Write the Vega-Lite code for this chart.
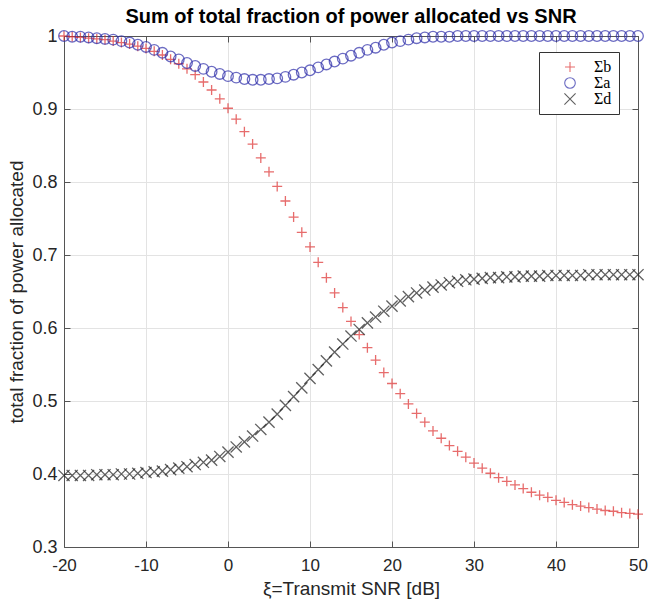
{
  "$schema": "https://vega.github.io/schema/vega-lite/v6.json",
  "width": 574,
  "height": 511,
  "autosize": {"type": "none"},
  "padding": {"left": 64, "top": 36, "right": 10, "bottom": 63},
  "background": "white",
  "title": {"text": "Sum of total fraction of power allocated vs SNR", "font": "Liberation Sans", "fontSize": 20, "fontWeight": "bold", "color": "#000000", "anchor": "middle", "offset": 0},
  "data": {"values": [
    {"x": -20, "b": 1.000, "a": 1.000, "d": 0.398},
    {"x": -19, "b": 0.999, "a": 0.999, "d": 0.398},
    {"x": -18, "b": 0.998, "a": 0.999, "d": 0.398},
    {"x": -17, "b": 0.997, "a": 0.998, "d": 0.398},
    {"x": -16, "b": 0.996, "a": 0.997, "d": 0.399},
    {"x": -15, "b": 0.995, "a": 0.996, "d": 0.399},
    {"x": -14, "b": 0.993, "a": 0.995, "d": 0.399},
    {"x": -13, "b": 0.991, "a": 0.993, "d": 0.400},
    {"x": -12, "b": 0.989, "a": 0.991, "d": 0.400},
    {"x": -11, "b": 0.986, "a": 0.988, "d": 0.401},
    {"x": -10, "b": 0.983, "a": 0.985, "d": 0.402},
    {"x": -9, "b": 0.979, "a": 0.981, "d": 0.403},
    {"x": -8, "b": 0.974, "a": 0.977, "d": 0.404},
    {"x": -7, "b": 0.968, "a": 0.972, "d": 0.406},
    {"x": -6, "b": 0.962, "a": 0.968, "d": 0.408},
    {"x": -5, "b": 0.955, "a": 0.963, "d": 0.410},
    {"x": -4, "b": 0.947, "a": 0.959, "d": 0.413},
    {"x": -3, "b": 0.937, "a": 0.955, "d": 0.416},
    {"x": -2, "b": 0.926, "a": 0.951, "d": 0.419},
    {"x": -1, "b": 0.914, "a": 0.948, "d": 0.424},
    {"x": 0, "b": 0.901, "a": 0.945, "d": 0.430},
    {"x": 1, "b": 0.886, "a": 0.943, "d": 0.437},
    {"x": 2, "b": 0.869, "a": 0.941, "d": 0.444},
    {"x": 3, "b": 0.852, "a": 0.940, "d": 0.452},
    {"x": 4, "b": 0.833, "a": 0.940, "d": 0.461},
    {"x": 5, "b": 0.814, "a": 0.941, "d": 0.471},
    {"x": 6, "b": 0.794, "a": 0.942, "d": 0.482},
    {"x": 7, "b": 0.774, "a": 0.944, "d": 0.494},
    {"x": 8, "b": 0.752, "a": 0.947, "d": 0.506},
    {"x": 9, "b": 0.731, "a": 0.950, "d": 0.518},
    {"x": 10, "b": 0.711, "a": 0.953, "d": 0.531},
    {"x": 11, "b": 0.690, "a": 0.957, "d": 0.543},
    {"x": 12, "b": 0.669, "a": 0.961, "d": 0.555},
    {"x": 13, "b": 0.648, "a": 0.965, "d": 0.567},
    {"x": 14, "b": 0.628, "a": 0.969, "d": 0.578},
    {"x": 15, "b": 0.609, "a": 0.973, "d": 0.589},
    {"x": 16, "b": 0.591, "a": 0.977, "d": 0.598},
    {"x": 17, "b": 0.573, "a": 0.981, "d": 0.607},
    {"x": 18, "b": 0.556, "a": 0.984, "d": 0.615},
    {"x": 19, "b": 0.539, "a": 0.988, "d": 0.623},
    {"x": 20, "b": 0.524, "a": 0.991, "d": 0.630},
    {"x": 21, "b": 0.510, "a": 0.993, "d": 0.637},
    {"x": 22, "b": 0.496, "a": 0.995, "d": 0.643},
    {"x": 23, "b": 0.483, "a": 0.997, "d": 0.648},
    {"x": 24, "b": 0.471, "a": 0.998, "d": 0.652},
    {"x": 25, "b": 0.459, "a": 0.999, "d": 0.656},
    {"x": 26, "b": 0.449, "a": 0.999, "d": 0.659},
    {"x": 27, "b": 0.439, "a": 0.999, "d": 0.662},
    {"x": 28, "b": 0.431, "a": 1.000, "d": 0.664},
    {"x": 29, "b": 0.423, "a": 1.000, "d": 0.666},
    {"x": 30, "b": 0.415, "a": 1.000, "d": 0.667},
    {"x": 31, "b": 0.408, "a": 1.000, "d": 0.668},
    {"x": 32, "b": 0.401, "a": 1.000, "d": 0.669},
    {"x": 33, "b": 0.395, "a": 1.000, "d": 0.669},
    {"x": 34, "b": 0.390, "a": 1.000, "d": 0.670},
    {"x": 35, "b": 0.385, "a": 1.000, "d": 0.670},
    {"x": 36, "b": 0.380, "a": 1.000, "d": 0.671},
    {"x": 37, "b": 0.375, "a": 1.000, "d": 0.671},
    {"x": 38, "b": 0.371, "a": 1.000, "d": 0.671},
    {"x": 39, "b": 0.368, "a": 1.000, "d": 0.672},
    {"x": 40, "b": 0.364, "a": 1.000, "d": 0.672},
    {"x": 41, "b": 0.361, "a": 1.000, "d": 0.672},
    {"x": 42, "b": 0.358, "a": 1.000, "d": 0.672},
    {"x": 43, "b": 0.356, "a": 1.000, "d": 0.672},
    {"x": 44, "b": 0.354, "a": 1.000, "d": 0.673},
    {"x": 45, "b": 0.352, "a": 1.000, "d": 0.673},
    {"x": 46, "b": 0.350, "a": 1.000, "d": 0.673},
    {"x": 47, "b": 0.349, "a": 1.000, "d": 0.673},
    {"x": 48, "b": 0.347, "a": 1.000, "d": 0.673},
    {"x": 49, "b": 0.346, "a": 1.000, "d": 0.673},
    {"x": 50, "b": 0.345, "a": 1.000, "d": 0.673}
  ]},
  "transform": [{"fold": ["b", "a", "d"], "as": ["s", "v"]}],
  "config": {
    "view": {"stroke": null},
    "axis": {
      "labelFont": "Liberation Sans",
      "labelFontSize": 18,
      "labelColor": "#262626",
      "titleFont": "Liberation Sans",
      "titleFontSize": 19,
      "titleFontWeight": "normal",
      "titleColor": "#262626",
      "domainColor": "#555555",
      "tickColor": "#555555",
      "gridColor": "#e3e3e3",
      "gridOpacity": 1,
      "tickSize": -6
    }
  },
  "layer": [
    {
      "mark": {"type": "point", "filled": false, "strokeWidth": 1.3, "clip": false},
      "encoding": {
        "x": {"field": "x", "type": "quantitative",
          "scale": {"domain": [-20, 50], "nice": false, "zero": false},
          "axis": {"orient": "bottom", "values": [-20, -10, 0, 10, 20, 30, 40, 50], "labelExpr": "datum.value < 0 ? '-' + abs(datum.value) : '' + datum.value", "labelFontSize": 17, "title": "ξ=Transmit SNR [dB]", "labelPadding": 16, "titlePadding": 6, "grid": true, "labelFlush": false}},
        "y": {"field": "v", "type": "quantitative",
          "scale": {"domain": [0.3, 1], "nice": false, "zero": false},
          "axis": {"orient": "left", "values": [0.3, 0.4, 0.5, 0.6, 0.7, 0.8, 0.9, 1], "format": ".1~f", "title": "total fraction of power allocated", "labelPadding": 13, "titlePadding": 5, "grid": true, "labelFlush": false}},
        "color": {"field": "s", "type": "nominal",
          "scale": {"domain": ["b", "a", "d"], "range": ["#dd2e2e", "#2e2eaa", "#1e1e1e"]},
          "legend": {
            "orient": "none", "legendX": 475, "legendY": 16,
            "title": null,
            "labelExpr": "'Σ' + datum.label + '\u00a0\u00a0\u00a0\u00a0\u00a0\u00a0\u00a0\u00a0\u00a0\u00a0\u00a0\u00a0'",
            "labelFont": "Liberation Serif", "labelFontSize": 16, "labelColor": "#000000",
            "symbolSize": 110, "symbolStrokeWidth": 1.1, "symbolOffset": 16, "labelOffset": 16,
            "padding": 7, "rowPadding": 0,
            "strokeColor": "#333333", "fillColor": "white", "cornerRadius": 0
          }},
        "shape": {"field": "s", "type": "nominal",
          "scale": {"domain": ["b", "a", "d"], "range": ["M-1,0H1M0,-1V1", "circle", "M-1,-1L1,1M-1,1L1,-1"]}},
        "size": {"field": "s", "type": "nominal",
          "scale": {"domain": ["b", "a", "d"], "range": [100, 125, 64]}, "legend": null}
      }
    },
    {
      "mark": {"type": "point", "opacity": 0},
      "encoding": {
        "x": {"field": "x", "type": "quantitative",
          "axis": {"orient": "top", "values": [-20, -10, 0, 10, 20, 30, 40, 50], "labels": false, "title": null, "grid": false}},
        "y": {"field": "v", "type": "quantitative",
          "axis": {"orient": "right", "values": [0.3, 0.4, 0.5, 0.6, 0.7, 0.8, 0.9, 1], "labels": false, "title": null, "grid": false}}
      }
    }
  ]
}
